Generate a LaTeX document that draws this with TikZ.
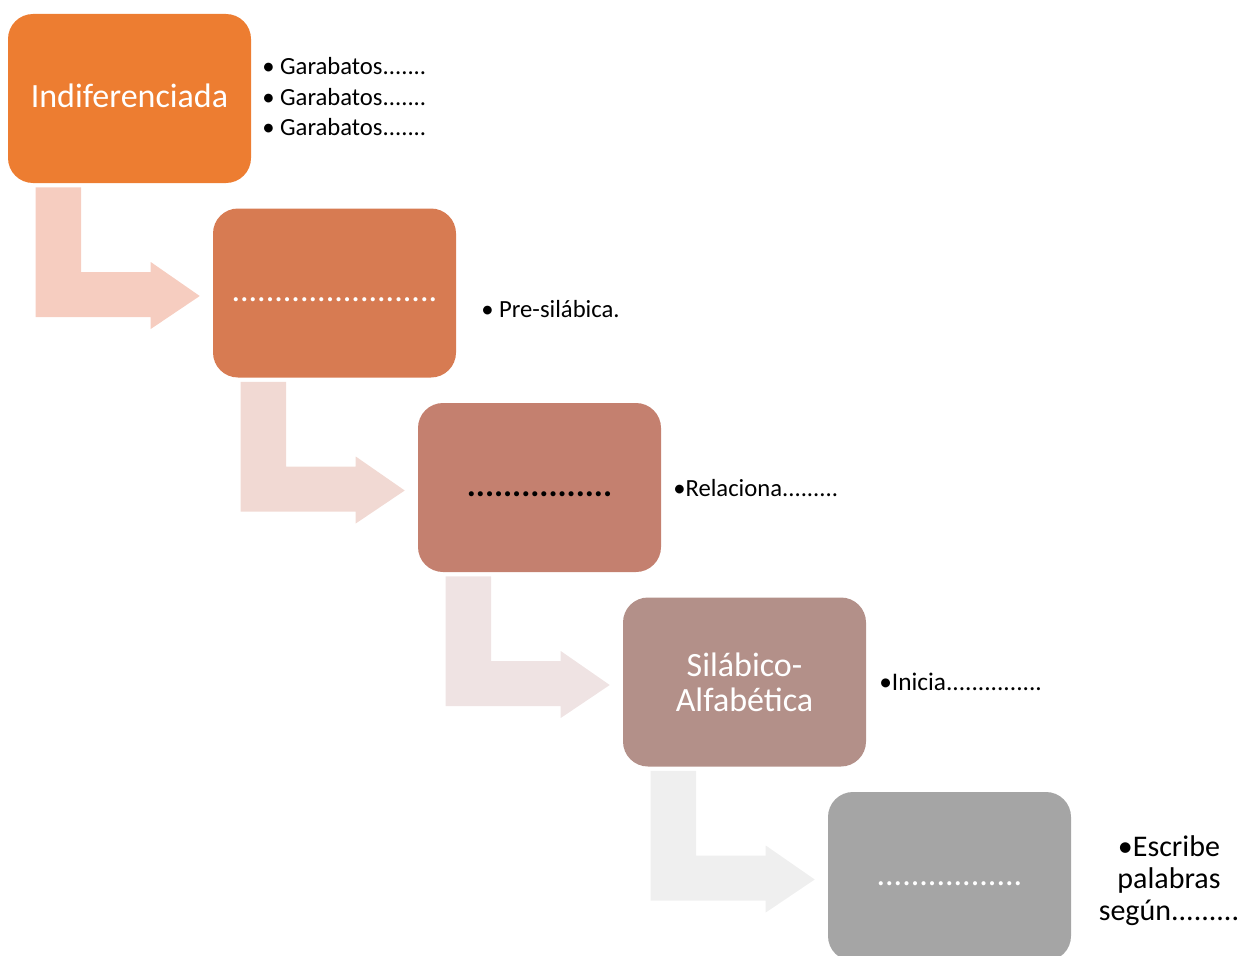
\documentclass[tikz,border=0pt]{standalone}
\usepackage{fontspec}
\setmainfont{Carlito}
\usetikzlibrary{calc}

\definecolor{stageA}{RGB}{237,125,49}
\definecolor{stageB}{RGB}{215,123,82}
\definecolor{stageC}{RGB}{196,128,111}
\definecolor{stageD}{RGB}{179,144,137}
\definecolor{stageE}{RGB}{165,165,165}
\definecolor{arrowA}{RGB}{246,205,192}
\definecolor{arrowB}{RGB}{241,217,211}
\definecolor{arrowC}{RGB}{239,227,227}
\definecolor{arrowD}{RGB}{239,239,239}

\tikzset{
  stagebox/.style={rounded corners=18.75pt, minimum width=182.25pt, minimum height=126.75pt,
    inner sep=0pt, font=\fontsize{25.5}{26.5}\selectfont},
  oneline/.style={text height=13pt, text depth=0pt},
  notetext/.style={inner sep=0pt, anchor=base west, align=left,
    font=\fontsize{18.5}{22.9}\selectfont},
}

% bent arrow from the foot of one box to the side of the next
\newcommand{\bendarrow}[3]{%
  \fill[#3] ($(#1.south west)+(28,4)$) -- ($(#1.south west)+(73.5,4)$)
    -- ($(#1.south west |- #2.west)+(73.5,-21)$) -- ($(#2.west)+(-62,-21)$)
    -- ($(#2.west)+(-62,-31)$) -- ($(#2.west)+(-13,3)$) -- ($(#2.west)+(-62,36)$)
    -- ($(#2.west)+(-62,24)$) -- ($(#1.south west |- #2.west)+(28,24)$) -- cycle;}

\begin{document}
\begin{tikzpicture}[x=0.75pt,y=0.75pt,yscale=-1,xscale=1]
\clip (0,0) rectangle (1247,956);

%Stages
\node[stagebox, oneline, fill=stageA, text=white] (b1) at (129.5,98.5) {Indiferenciada};
\node[stagebox, oneline, fill=stageB, text=white] (b2) at (334.5,293) {........................};
\node[stagebox, oneline, fill=stageC, text=black, font=\fontsize{25.5}{26.5}\selectfont\bfseries] (b3) at (539.5,487.5) {................};
\node[stagebox, align=center, fill=stageD, text=white] (b4) at (744.5,682) {Silábico-\\Alfabética};
\node[stagebox, oneline, fill=stageE, text=white] (b5) at (949.5,876.5) {.................};

%Bent arrows
\bendarrow{b1}{b2}{arrowA}
\bendarrow{b2}{b3}{arrowB}
\bendarrow{b3}{b4}{arrowC}
\bendarrow{b4}{b5}{arrowD}

% Text Nodes
\node[notetext] (n1) at (262,136) {• Garabatos.......\\• Garabatos.......\\• Garabatos.......};
\node[notetext] (n2) at (481,317) {• Pre-silábica.};
\node[notetext] (n3) at (673,496) {•Relaciona.........};
\node[notetext, font=\fontsize{19}{22.9}\selectfont] (n4) at (879,690) {•Inicia...............};
\node[notetext, anchor=base, align=center, font=\fontsize{22.5}{24}\selectfont] (n5) at (1169,920) {•Escribe\\palabras\\según.........};

\end{tikzpicture}
\end{document}
